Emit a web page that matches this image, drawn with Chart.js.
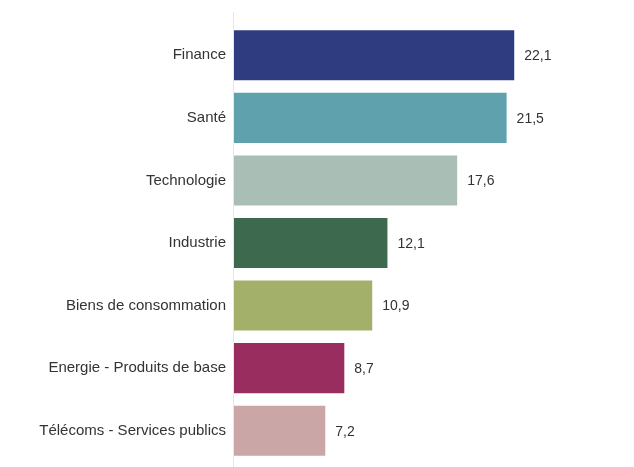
<!DOCTYPE html>
<html>
<head>
<meta charset="utf-8">
<script src="https://cdn.jsdelivr.net/npm/chart.js@4"></script>
<style>
  html, body { margin: 0; padding: 0; background: #fff; }
  #wrap { width: 634px; height: 467px; }
</style>
</head>
<body>
<div id="wrap"><canvas id="chart" width="634" height="467"></canvas></div>
<script>
const categories = ['Finance', 'Santé', 'Technologie', 'Industrie', 'Biens de consommation', 'Energie - Produits de base', 'Télécoms - Services publics'];
const values = [22.1, 21.5, 17.6, 12.1, 10.9, 8.7, 7.2];
const colors = ['#2f3d80', '#5fa2ad', '#a9bfb5', '#3d6a4e', '#a3b069', '#992d5f', '#cba6a7'];

// vertical axis line + value labels
const extras = {
  id: 'extras',
  afterDatasetsDraw(chart) {
    const ctx = chart.ctx;
    const x0 = chart.scales.x.getPixelForValue(0);
    ctx.save();
    ctx.strokeStyle = '#e6e6e6';
    ctx.lineWidth = 1;
    ctx.beginPath();
    ctx.moveTo(Math.round(x0) - 0.5, 12);
    ctx.lineTo(Math.round(x0) - 0.5, chart.height);
    ctx.stroke();

    ctx.fillStyle = '#333';
    ctx.font = '14px "Liberation Sans", Arial, sans-serif';
    ctx.textBaseline = 'middle';
    chart.getDatasetMeta(0).data.forEach((bar, i) => {
      ctx.fillText(values[i].toFixed(1).replace('.', ','), bar.x + 10, bar.y + 1);
    });
    ctx.restore();
  }
};

new Chart(document.getElementById('chart').getContext('2d'), {
  type: 'bar',
  data: {
    labels: categories,
    datasets: [{
      data: values,
      backgroundColor: colors,
      barPercentage: 0.8,
      categoryPercentage: 1
    }]
  },
  options: {
    indexAxis: 'y',
    responsive: false,
    animation: false,
    layout: { padding: { top: 24, bottom: 5, right: 83, left: 0 } },
    plugins: { legend: { display: false }, tooltip: { enabled: false } },
    scales: {
      x: { display: false, min: 0, max: 25 },
      y: {
        grid: { display: false },
        border: { display: false },
        ticks: {
          color: '#333',
          padding: 0,
          font: { family: '"Liberation Sans", Arial, sans-serif', size: 15 }
        },
        afterFit(scale) {
          scale.width = 234;
          scale.paddingTop = 0;
          scale.paddingBottom = 0;
        }
      }
    }
  },
  plugins: [extras]
});
</script>
</body>
</html>
